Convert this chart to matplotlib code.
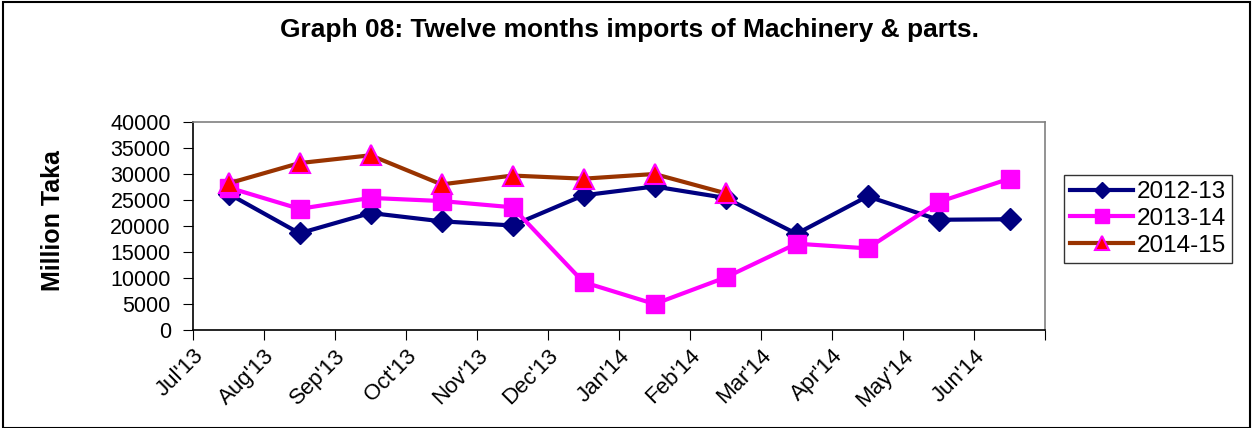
import matplotlib
matplotlib.use("Agg")
import matplotlib.pyplot as plt
from matplotlib.patches import Rectangle
from matplotlib.transforms import ScaledTranslation

months = ["Jul'13", "Aug'13", "Sep'13", "Oct'13", "Nov'13", "Dec'13",
          "Jan'14", "Feb'14", "Mar'14", "Apr'14", "May'14", "Jun'14"]
s2012_13 = [26200, 18600, 22500, 20900, 20100, 25900, 27600, 25400, 18500, 25700, 21200, 21300]
s2013_14 = [27400, 23300, 25400, 24800, 23600, 9200, 5000, 10100, 16600, 15700, 24600, 29100]
s2014_15 = [28200, 32100, 33600, 28000, 29700, 29100, 30000, 26300]
yticks = [0, 5000, 10000, 15000, 20000, 25000, 30000, 35000, 40000]

plt.rcParams['font.family'] = ['Liberation Sans', 'DejaVu Sans']

W, H = 1254, 428
fig = plt.figure(figsize=(W / 100, H / 100), dpi=100)
ax = fig.add_axes([193 / W, 1 - 330 / H, (1045 - 193) / W, (330 - 122) / H])

x1 = [i + 0.5 for i in range(len(s2012_13))]
x2 = [i + 0.5 for i in range(len(s2013_14))]
x3 = [i + 0.5 for i in range(len(s2014_15))]

ax.plot(x1, s2012_13, color='#000080', lw=3, marker='D', ms=11,
        mfc='#000080', mec='#000080', label='2012-13', zorder=3)
ax.plot(x2, s2013_14, color='#FF00FF', lw=3, marker='s', ms=13,
        mfc='#FF00FF', mec='#FF00FF', label='2013-14', zorder=4)
ax.plot(x3, s2014_15, color='#993300', lw=3, marker='^', ms=14,
        mfc='#FF0000', mec='#FF00FF', mew=1.5, label='2014-15', zorder=5)

ax.set_xlim(0, 12)
ax.set_ylim(0, 40000)
ax.set_yticks(yticks)
ax.set_yticklabels([str(v) for v in yticks], fontsize=15.5)
ax.set_xticks(range(13))
ax.set_xticklabels(months + [''], rotation=45, ha='right', va='top',
                   rotation_mode='anchor', fontsize=16)
off = ScaledTranslation(14 / 100, -2 / 100, fig.dpi_scale_trans)
for lab in ax.get_xticklabels():
    lab.set_transform(lab.get_transform() + off)
ax.tick_params(axis='x', length=7, direction='out', pad=4)
ax.tick_params(axis='y', length=7, direction='out', pad=9)

for side in ['top', 'right']:
    ax.spines[side].set_color('#808080')
for side in ['left', 'bottom']:
    ax.spines[side].set_color('black')
for sp in ax.spines.values():
    sp.set_linewidth(1.2)

fig.text(53 / W, 1 - 221 / H, 'Million Taka', rotation=90, ha='center', va='center',
         fontsize=18, fontweight='bold')

fig.text(630 / W, 1 - 30 / H, 'Graph 08: Twelve months imports of Machinery & parts.',
         ha='center', va='center', fontsize=19, fontweight='bold')

leg = ax.legend(loc='upper left', bbox_to_anchor=(1064 / W, 1 - 175 / H),
                bbox_transform=fig.transFigure, borderaxespad=0, fontsize=17.5,
                frameon=True, fancybox=False, edgecolor='black',
                handlelength=2.6, handletextpad=0.15, borderpad=0.25,
                labelspacing=0.2, markerscale=0.75)
leg.get_frame().set_linewidth(1.0)

fig.patches.append(Rectangle((0.002, 0.0), 0.995, 0.996, transform=fig.transFigure,
                             fill=False, edgecolor='black', lw=1.5))

fig.savefig('out.png', dpi=100)
